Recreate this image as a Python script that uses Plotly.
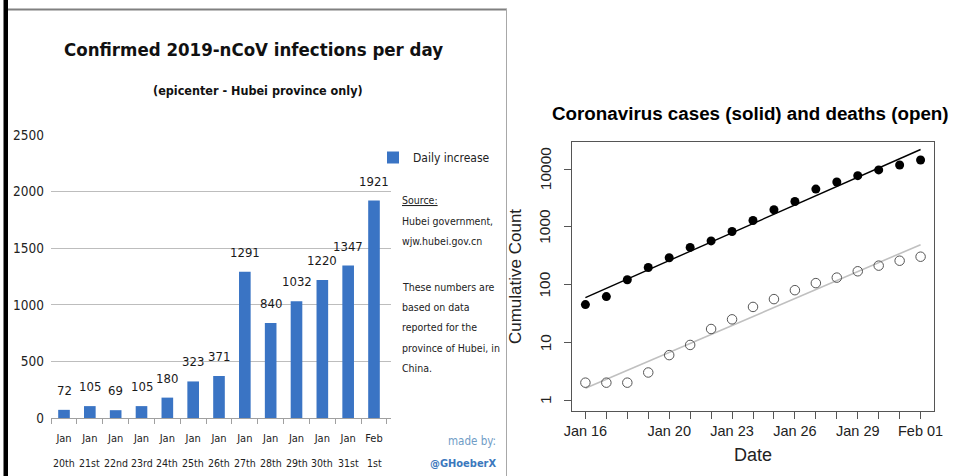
import numpy as np
import pandas as pd
import plotly.graph_objects as go

# ---------------- data: left chart (daily confirmed, Hubei) ----------------
bar_months = ["Jan", "Jan", "Jan", "Jan", "Jan", "Jan", "Jan", "Jan", "Jan", "Jan", "Jan", "Jan", "Feb"]
bar_days = ["20th", "21st", "22nd", "23rd", "24th", "25th", "26th", "27th", "28th", "29th", "30th", "31st", "1st"]
daily_increase = [72, 105, 69, 105, 180, 323, 371, 1291, 840, 1032, 1220, 1347, 1921]
bar_yticks = [0, 500, 1000, 1500, 2000, 2500]

# ---------------- data: right chart (cumulative, log scale) ----------------
dates = ["2020-01-16", "2020-01-17", "2020-01-18", "2020-01-19", "2020-01-20", "2020-01-21",
         "2020-01-22", "2020-01-23", "2020-01-24", "2020-01-25", "2020-01-26", "2020-01-27",
         "2020-01-28", "2020-01-29", "2020-01-30", "2020-01-31", "2020-02-01"]
cases = [45, 62, 121, 198, 291, 440, 571, 830, 1287, 1975, 2744, 4515, 5974, 7711, 9692, 11791, 14380]
deaths = [2, 2, 2, 3, 6, 9, 17, 25, 41, 56, 80, 106, 132, 170, 213, 259, 304]
date_tick_labels = ["Jan 16", "", "", "", "Jan 20", "", "", "Jan 23", "", "", "Jan 26", "", "",
                    "Jan 29", "", "", "Feb 01"]
log_yticks = [1, 10, 100, 1000, 10000]

side_note_lines = ["<u>Source:</u>", "Hubei government,", "wjw.hubei.gov.cn", "",
                   "These numbers are", "based on data", "reported for the",
                   "province of Hubei, in", "China."]

# ---------------- helpers ----------------
W, H = 957, 476
def px(x):
    return x / W
def py(y):
    return 1 - y / H

NARROW = "DejaVu Sans Condensed, Liberation Sans Narrow, sans-serif"
ARIAL = "Liberation Sans, Arial, Helvetica, sans-serif"

bar_categories = [m + " " + d for m, d in zip(bar_months, bar_days)]

# regression fits (log10 counts vs day index)
dts = pd.to_datetime(dates)
day_idx = np.array([(d - dts[0]).days for d in dts], dtype=float)
fit_c = np.polyfit(day_idx, np.log10(cases), 1)
fit_d = np.polyfit(day_idx, np.log10(deaths), 1)
fit_cases = 10 ** np.polyval(fit_c, day_idx)
fit_deaths = 10 ** np.polyval(fit_d, day_idx)

fig = go.Figure()

# left: bars
fig.add_trace(go.Bar(
    x=bar_categories, y=daily_increase, name="Daily increase",
    marker=dict(color="#3a74c4", line=dict(width=0)),
    xaxis="x", yaxis="y", showlegend=True,
))

# right: fit lines and points
fig.add_trace(go.Scatter(x=dates, y=fit_cases, mode="lines", line=dict(color="black", width=1.4),
                         xaxis="x2", yaxis="y2", showlegend=False))
fig.add_trace(go.Scatter(x=dates, y=fit_deaths, mode="lines", line=dict(color="#c0c0c0", width=1.6),
                         xaxis="x2", yaxis="y2", showlegend=False))
fig.add_trace(go.Scatter(x=dates, y=cases, mode="markers",
                         marker=dict(symbol="circle", size=9, color="black"),
                         xaxis="x2", yaxis="y2", showlegend=False))
fig.add_trace(go.Scatter(x=dates, y=deaths, mode="markers",
                         marker=dict(symbol="circle-open", size=9.5, color="#555555", line=dict(width=1)),
                         xaxis="x2", yaxis="y2", showlegend=False))

annotations = []
# data labels above bars
for cat, v in zip(bar_categories, daily_increase):
    annotations.append(dict(x=cat, y=v, xref="x", yref="y", text=str(v), showarrow=False,
                            yanchor="bottom", yshift=10,
                            font=dict(family=NARROW, size=13, color="#1a1a1a")))
# second line of category labels
for cat, d in zip(bar_categories, bar_days):
    annotations.append(dict(x=cat, y=0, xref="x", yref="y", text=d, showarrow=False,
                            yanchor="middle", yshift=-45,
                            font=dict(family=NARROW, size=10.5, color="#222222")))
# titles left
annotations.append(dict(x=px(254), y=py(50), xref="paper", yref="paper",
                        text="Confirmed 2019-nCoV infections per day", showarrow=False,
                        xanchor="center", yanchor="middle",
                        font=dict(family=NARROW, size=18.5, color="#111111", weight="bold")))
annotations.append(dict(x=px(258), y=py(90), xref="paper", yref="paper",
                        text="(epicenter - Hubei province only)", showarrow=False,
                        xanchor="center", yanchor="middle",
                        font=dict(family=NARROW, size=12.5, color="#111111", weight="bold")))
# side notes
note_y = [200, 221, 241, 264, 287, 307, 327, 348, 368]
for t, yy in zip(side_note_lines, note_y):
    if t:
        annotations.append(dict(x=px(400), y=py(yy), xref="paper", yref="paper", text=t,
                                showarrow=False, xanchor="left", yanchor="middle",
                                font=dict(family=NARROW, size=10.5, color="#222222")))
annotations.append(dict(x=px(498), y=py(441), xref="paper", yref="paper", text="made by:",
                        showarrow=False, xanchor="right", yanchor="middle",
                        font=dict(family=NARROW, size=11.5, color="#6f9cc6")))
annotations.append(dict(x=px(498), y=py(463), xref="paper", yref="paper", text="@GHoeberX",
                        showarrow=False, xanchor="right", yanchor="middle",
                        font=dict(family=NARROW, size=11, color="#3b78bd", weight="bold")))
# right title
annotations.append(dict(x=px(750), y=py(113), xref="paper", yref="paper",
                        text="Coronavirus cases (solid) and deaths (open)", showarrow=False,
                        xanchor="center", yanchor="middle",
                        font=dict(family=ARIAL, size=18.8, color="black", weight="bold")))
# rotated log-axis tick labels (R style)
for v in log_yticks:
    annotations.append(dict(x=px(545), y=np.log10(v), xref="paper", yref="y2", text=str(v),
                            showarrow=False, textangle=-90, xanchor="center", yanchor="middle",
                            font=dict(family=ARIAL, size=15.5, color="#222222")))

# date axis range with R-style 4% padding
span = dts[-1] - dts[0]
xr = [dts[0] - 0.04 * span, dts[-1] + 0.04 * span]

shapes = [
    dict(type="rect", xref="paper", yref="paper", x0=px(3.5), x1=px(8), y0=0, y1=1,
         fillcolor="black", line=dict(width=0)),
    dict(type="line", xref="paper", yref="paper", x0=px(8), x1=px(507), y0=py(9.5), y1=py(9.5),
         line=dict(color="#808080", width=2)),
    dict(type="line", xref="paper", yref="paper", x0=px(506.5), x1=px(506.5), y0=0, y1=py(9),
         line=dict(color="#a8a8a8", width=1)),
]

fig.update_layout(
    width=W, height=H,
    margin=dict(l=0, r=0, t=0, b=0, autoexpand=False),
    paper_bgcolor="white", plot_bgcolor="white",
    bargap=0.55,
    showlegend=True,
    legend=dict(x=px(373), y=py(143), xanchor="left", yanchor="top",
                font=dict(family=NARROW, size=12, color="#222222"),
                bgcolor="rgba(0,0,0,0)", itemwidth=30, tracegroupgap=0),
    xaxis=dict(domain=[px(51), px(391)], anchor="y", type="category", automargin=False,
               tickvals=bar_categories, ticktext=bar_months, tickangle=0,
               showline=True, linecolor="#a0a0a0", linewidth=1,
               ticks="outside", tickson="boundaries", ticklen=5, tickcolor="#a0a0a0",
               ticklabelstandoff=10,
               tickfont=dict(family=NARROW, size=11, color="#222222"),
               showgrid=False, zeroline=False),
    yaxis=dict(domain=[py(418), py(135)], anchor="x", range=[0, 2500], automargin=False,
               tickvals=bar_yticks, showgrid=True, gridcolor="#bdbdbd", gridwidth=1,
               showline=False, ticks="", zeroline=False, ticklabelstandoff=6,
               tickfont=dict(family=NARROW, size=13.5, color="#222222")),
    xaxis2=dict(domain=[px(572), px(934)], anchor="y2", type="date", range=xr, automargin=False,
                tickvals=dates, ticktext=date_tick_labels, tickangle=0,
                ticks="outside", ticklen=7, tickcolor="#555555",
                showline=True, mirror=True, linecolor="#555555", linewidth=1,
                showgrid=False, zeroline=False,
                tickfont=dict(family=ARIAL, size=14.5, color="#222222"),
                title=dict(text="Date", font=dict(family=ARIAL, size=18, color="#222222"), standoff=9)),
    yaxis2=dict(domain=[py(411), py(142)], anchor="x2", type="log", range=[-0.19, 4.47], automargin=False,
                tickvals=log_yticks, showticklabels=False,
                ticks="outside", ticklen=7, tickcolor="#555555",
                showline=True, mirror=True, linecolor="#555555", linewidth=1,
                showgrid=False, zeroline=False,
                title=dict(text="Cumulative Count", font=dict(family=ARIAL, size=17, color="#222222"), standoff=38)),
    annotations=annotations,
    shapes=shapes,
)

fig.write_html("out.html", config={"displayModeBar": False},
               post_script="document.body.style.margin='0px';document.body.style.overflow='hidden';")
